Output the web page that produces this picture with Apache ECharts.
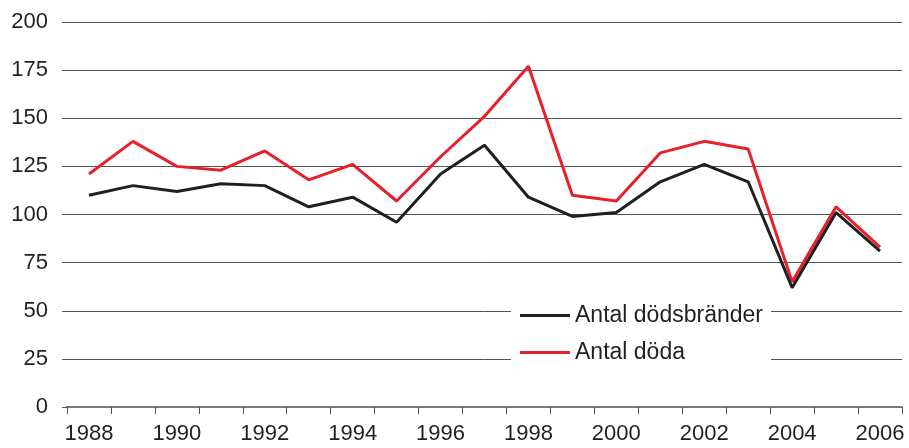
<!DOCTYPE html>
<html>
<head>
<meta charset="utf-8">
<script src="https://cdn.jsdelivr.net/npm/echarts@6/dist/echarts.min.js"></script>
<style>
html,body{margin:0;padding:0;background:#fff;}
#chart{width:909px;height:448px;}
</style>
</head>
<body>
<div id="chart"></div>
<script>
const years = ['1988','1989','1990','1991','1992','1993','1994','1995','1996','1997','1998','1999','2000','2001','2002','2003','2004','2005','2006'];
const dodsbrander = [110,115,112,116,115,104,109,96,121,136,109,99,101,117,126,117,62,101,81];
const doda = [121,138,125,123,133,118,126,107,130,151,177,110,107,132,138,134,65,104,83];
const seriesNames = ['Antal dödsbränder','Antal döda'];
const yTicks = {min:0, max:200, interval:25};

const chart = echarts.init(document.getElementById('chart'));
const font = 'Liberation Sans, Arial, sans-serif';
chart.setOption({
  animation:false,
  backgroundColor:'#fff',
  grid:{left:67,right:7,top:22,bottom:41,containLabel:false},
  xAxis:{
    type:'category',
    data:years,
    boundaryGap:true,
    axisLine:{show:true,lineStyle:{color:'#7a7a7a',width:2}},
    axisTick:{show:true,interval:0,length:7,lineStyle:{color:'#555',width:1}},
    axisLabel:{interval:1,margin:16,color:'#231f20',fontSize:22,fontFamily:font},
    splitLine:{show:false}
  },
  yAxis:{
    type:'value',
    min:yTicks.min,max:yTicks.max,interval:yTicks.interval,
    axisLine:{show:false},
    axisTick:{show:true,length:5,lineStyle:{color:'#555',width:1}},
    axisLabel:{margin:19,color:'#231f20',fontSize:22,fontFamily:font},
    splitLine:{show:true,lineStyle:{color:'#555',width:1}}
  },
  legend:{
    orient:'vertical',
    left:511,top:292,
    backgroundColor:'#fff',
    padding:[12,8,13,9],
    icon:'rect',
    itemWidth:50,itemHeight:3,itemGap:14,
    textStyle:{fontSize:23,color:'#231f20',fontFamily:font},
    data:seriesNames
  },
  series:[
    {name:seriesNames[0],type:'line',data:dodsbrander,symbol:'none',z:3,
     lineStyle:{color:'#231f20',width:3},itemStyle:{color:'#231f20'}},
    {name:seriesNames[1],type:'line',data:doda,symbol:'none',z:2,
     lineStyle:{color:'#e8202a',width:3},itemStyle:{color:'#e8202a'}}
  ]
});
</script>
</body>
</html>
